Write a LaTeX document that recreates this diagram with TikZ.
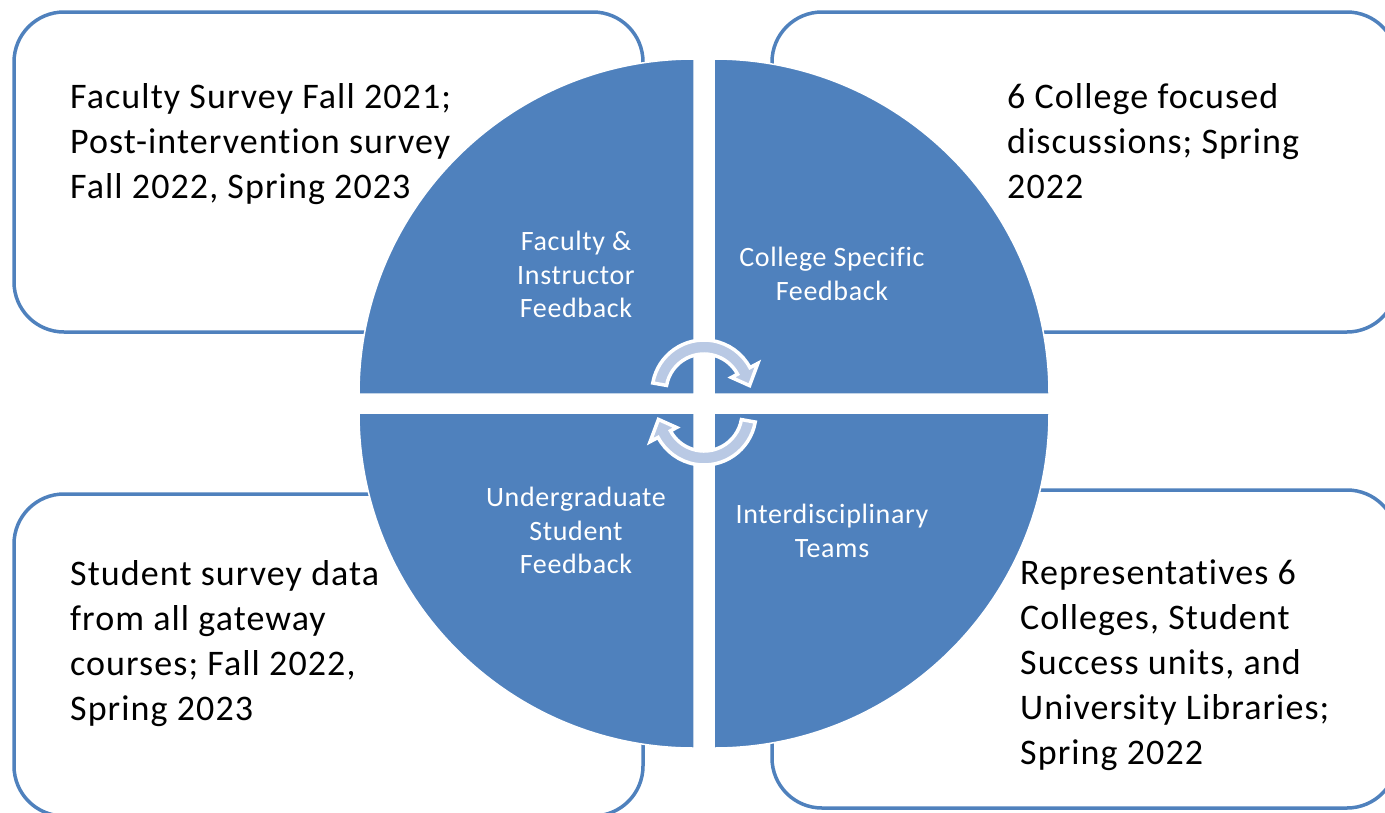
\documentclass[tikz,border=0pt]{standalone}
\usepackage{fontspec}
\setmainfont{Carlito}[LetterSpace=2.3, Ligatures=NoCommon]
\definecolor{qblue}{RGB}{79,129,189}
\definecolor{arrowfill}{RGB}{185,201,228}

\tikzset{
  infobox/.style={draw=qblue, line width=3.5pt, fill=white, rounded corners=50pt},
  quadrant/.style={fill=qblue, draw=white, line width=1.5pt},
  boxtext/.style={anchor=north west, inner sep=0pt, align=left,
    font=\fontsize{36}{45}\selectfont\addfontfeature{LetterSpace=3}, text=black},
  quadtext/.style={anchor=north, inner sep=0pt, align=center,
    font=\fontsize{28}{33.5}\selectfont, text=white},
  % curved arrow: light band with a white rim, head at the clockwise end
  cyclearrow/.pic={
    \path[fill=arrowfill, draw=white, line width=3.5pt, line join=miter]
      (-170:52) arc[start angle=-170, end angle=-28, radius=52]
      -- (-28:61) -- (-8:46) -- (-28:31) -- (-28:38)
      arc[start angle=-28, end angle=-170, radius=38] -- cycle;
  }
}

\begin{document}
\begin{tikzpicture}[x=1pt, y=-1pt]
\useasboundingbox (0,0) rectangle (1385,812);

% outer rounded boxes
\path[infobox] (14,12) rectangle (643,332);
\path[infobox] (772,12) rectangle (1397,332);
\path[infobox] (14,494) rectangle (643,816);
\path[infobox] (772,490) rectangle (1397,808);

% four quarter discs
\path[quadrant] (694,394) -- (359,394) arc[start angle=180, end angle=270, radius=335] -- cycle;
\path[quadrant] (714,394) -- (714,59) arc[start angle=270, end angle=360, radius=335] -- cycle;
\path[quadrant] (714,413) -- (1049,413) arc[start angle=0, end angle=90, radius=335] -- cycle;
\path[quadrant] (694,413) -- (694,748) arc[start angle=90, end angle=180, radius=335] -- cycle;

% central cycle arrows
\pic at (704,392) {cyclearrow};
\pic[rotate=180] at (704,413) {cyclearrow};

% quadrant labels
\node[quadtext] (faculty) at (576,231) {Faculty \&\\Instructor\\Feedback};
\node[quadtext] (college) at (832,247) {College Specific\\Feedback};
\node[quadtext] (student) at (576,487) {Undergraduate\\Student\\Feedback};
\node[quadtext] (teams) at (832,504) {Interdisciplinary\\Teams};

% box texts
\node[boxtext] (facultynote) at (70,83) {Faculty Survey Fall 2021;\\Post-intervention survey\\Fall 2022, Spring 2023};
\node[boxtext] (collegenote) at (1007,83) {6 College focused\\discussions; Spring\\2022};
\node[boxtext] (studentnote) at (70,560) {Student survey data\\from all gateway\\courses; Fall 2022,\\Spring 2023};
\node[boxtext] (teamsnote) at (1020,560) {Representatives 6\\Colleges, Student\\Success units, and\\University Libraries;\\Spring 2022};
\end{tikzpicture}
\end{document}
